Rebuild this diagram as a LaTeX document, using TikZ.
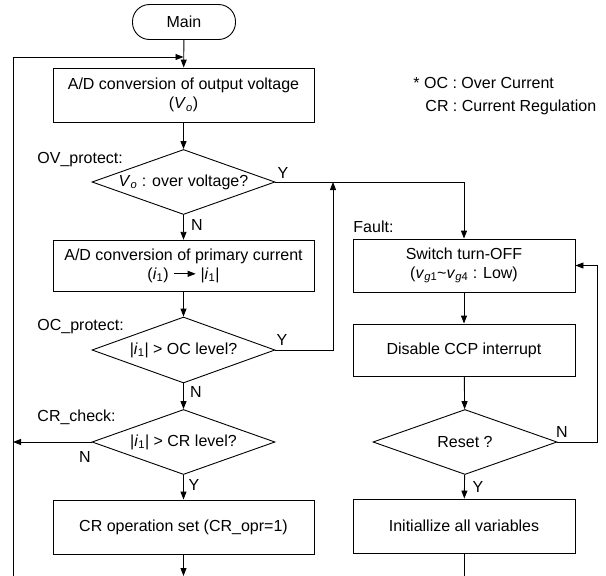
\documentclass[tikz,border=0pt]{standalone}
\usepackage{fontspec}
\setmainfont{Liberation Sans}
\usetikzlibrary{arrows.meta,positioning,shapes.geometric}
\newcommand{\sbs}[1]{\textsubscript{#1}}
\newcommand{\rarr}{\tikz[baseline=-0.33em]\draw[line width=0.9pt,
  -{Triangle[length=8pt,width=6pt]}] (0pt,0pt) -- (22pt,0pt);}
\tikzset{
  termbox/.style={draw,rounded corners=17pt,minimum width=103pt,
    minimum height=35pt,inner sep=0pt},
  procbox/.style={draw,rectangle,minimum width=261pt,
    minimum height=53pt,align=center,inner sep=0pt},
  faultbox/.style={procbox,minimum width=222pt},
  decbox/.style={draw,diamond,aspect=2.9,minimum width=183pt,
    minimum height=65pt,inner sep=0pt,align=center},
  arr/.style={-{Triangle[length=8pt,width=6pt]}},
  lbl/.style={inner sep=0pt},
}

\begin{document}
\begin{tikzpicture}[x=1pt,y=-1pt,line width=0.9pt,
    font=\fontsize{16}{19}\selectfont]
  \useasboundingbox (0,0) rectangle (606,576);
  \node[termbox] (main) at (184,22) {Main};
  \node[procbox,minimum height=54pt] (advo) at (183.5,95)
    {A/D conversion of output voltage\\(\textit{V}\sbs{\textit{o}})};
  \node[decbox] (ovchk) at (183.5,182)
    {\textit{V}\sbs{\textit{o}} : over voltage?};
  \node[procbox,minimum height=51pt] (adi) at (183.5,265.5)
    {A/D conversion of primary current\\(\textit{i}\sbs{1}) \rarr{} |\textit{i}\sbs{1}|};
  \node[decbox,minimum height=66pt] (occhk) at (183.5,350)
    {|\textit{i}\sbs{1}| > OC level?};
  \node[decbox] (crchk) at (183.5,442) {|\textit{i}\sbs{1}| > CR level?};
  \node[procbox,minimum height=54pt] (crset) at (183.5,527)
    {CR operation set (CR\_opr=1)};
  \node[faultbox] (swoff) at (464,265.5)
    {Switch turn-OFF\\(\textit{v}\sbs{\textit{g}1}\textasciitilde\textit{v}\sbs{\textit{g}4} : Low)};
  \node[faultbox,minimum height=52pt] (dis) at (464,350) {Disable CCP interrupt};
  \node[decbox,minimum width=184pt] (rst) at (465,442) {Reset ?};
  \node[faultbox,minimum height=54pt] (init) at (464,526) {Initiallize all variables};

  \node[lbl,anchor=west] (ovlbl) at (37,160) {OV\_protect:};
  \node[lbl,anchor=west] (oclbl) at (37,327) {OC\_protect:};
  \node[lbl,anchor=west] (crlbl) at (37,417) {CR\_check:};
  \node[lbl,anchor=west] (fltlbl) at (353,227) {Fault:};
  \node[lbl,anchor=west] (note1) at (413,83) {* OC : Over Current};
  \node[lbl,anchor=west] (note2) at (425,107) {CR : Current Regulation};

  \node[lbl] (ovy) at (283,173) {Y};
  \node[lbl] (ovn) at (197,225) {N};
  \node[lbl] (ocy) at (282,340) {Y};
  \node[lbl] (ocn) at (196,392) {N};
  \node[lbl] (crn) at (85,457) {N};
  \node[lbl] (cry) at (194,485) {Y};
  \node[lbl] (rstn) at (562,432) {N};
  \node[lbl] (rsty) at (478,487) {Y};

  \coordinate (join) at (183.5,57);
  \coordinate (loopin) at (13,576);
  \coordinate (leftout) at (183.5,576);
  \coordinate (rightout) at (464,576);
  \coordinate (ocup) at (333,182);

  \draw[arr] (main) -- (advo);
  \draw[arr] (loopin) |- (join);
  \draw[arr] (advo) -- (ovchk);
  \draw[arr] (ovchk) -- (adi);
  \draw[arr] (adi) -- (occhk);
  \draw[arr] (occhk) -- (crchk);
  \draw[arr] (crchk) -- (crset);
  \draw[arr] (crset) -- (leftout);
  \draw[arr] (crchk.west) -- (crchk.west -| loopin);
  \draw[arr] (ovchk.east) -| (swoff.north);
  \draw[arr] (occhk.east) -| (ocup);
  \draw[arr] (swoff) -- (dis);
  \draw[arr] (dis) -- (rst);
  \draw[arr] (rst) -- (init);
  \draw (init) -- (rightout);
  \draw[arr] (rst.east) -- ++(40,0) |- (swoff.east);
\end{tikzpicture}
\end{document}
